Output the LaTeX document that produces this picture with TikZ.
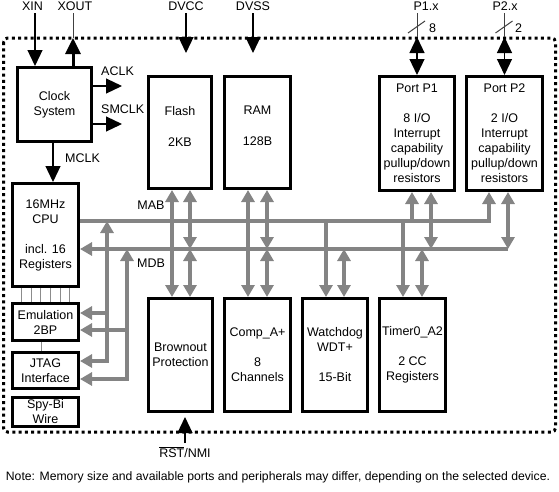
\documentclass[tikz,border=0pt]{standalone}
\usepackage{fontspec}
\setmainfont{Liberation Sans}
\usetikzlibrary{arrows.meta,positioning}
\definecolor{busgray}{RGB}{132,132,132}
\newcommand{\blkfont}{\fontsize{12.5}{15}\selectfont}

\tikzset{
  box/.style={draw, line width=3pt, align=center, inner sep=0pt, font=\blkfont},
  lbl/.style={anchor=base, inner sep=3pt, font=\blkfont},
  sig/.style={line width=1.2pt, >={Triangle[length=16pt,width=15pt]}},
  bus/.style={draw=busgray, line width=4pt, >={Triangle[length=12pt,width=13pt]}},
  pinline/.style={line width=1pt, draw=black!75},
  dbgline/.style={line width=1pt, draw=black!45},
}

\begin{document}
\begin{tikzpicture}[x=1pt, y=-1pt]
\useasboundingbox (0,0) rectangle (559,491);
% chip outline
\draw[line width=3pt, dash pattern=on 3pt off 3.3pt, rounded corners=4pt] (3.5,38) rectangle (555.5,432);

% blocks
\node[box, minimum width=74pt, minimum height=74pt] (clock) at (54.5,104.5) {Clock\\System};
\node[box, minimum width=63pt, minimum height=112pt] (flash) at (180,132.5) {Flash\\[16pt]2KB\\[-2pt]~};
\node[box, minimum width=66pt, minimum height=112pt] (ram) at (257.5,132.5) {RAM\\[16pt]128B\\[-2pt]~};
\node[box, minimum width=75pt, minimum height=114pt] (p1) at (417,133.5) {Port P1\\[15pt]8 I/O\\Interrupt\\capability\\pullup/down\\resistors};
\node[box, minimum width=76pt, minimum height=114pt] (p2) at (504.5,133.5) {Port P2\\[15pt]2 I/O\\Interrupt\\capability\\pullup/down\\resistors};
\node[box, minimum width=66pt, minimum height=103pt] (cpu) at (45.5,235) {16MHz\\CPU\\[15pt]incl. 16\\Registers};
\node[box, minimum width=66pt, minimum height=37pt] (emu) at (45.5,322) {Emulation\\2BP};
\node[box, minimum width=66pt, minimum height=36pt] (jtag) at (45.5,370.5) {JTAG\\Interface};
\node[box, minimum width=66pt, minimum height=29pt] (sbw) at (45.5,412) {Spy-Bi\\Wire};
\node[box, minimum width=64pt, minimum height=113pt] (brown) at (180.5,355) {Brownout\\Protection};
\node[box, minimum width=66pt, minimum height=113pt] (comp) at (257.5,355) {Comp\_A+\\[15pt]8\\Channels};
\node[box, minimum width=65pt, minimum height=113pt] (wdt) at (335,355) {Watchdog\\WDT+\\[15pt]15-Bit};
\node[box, minimum width=66pt, minimum height=113pt] (timer) at (412.5,355) {Timer0\_A2\\[15pt]2 CC\\Registers};

% pin labels
\node[lbl] (xin) at (32.5,10) {XIN};
\node[lbl] (xout) at (75,10) {XOUT};
\node[lbl] (dvcc) at (186,10) {DVCC};
\node[lbl] (dvss) at (253,10) {DVSS};
\node[lbl] (p1x) at (426,10) {P1.x};
\node[lbl] (p2x) at (505,10) {P2.x};
\node[lbl] (p1w) at (432.5,32) {8};
\node[lbl] (p2w) at (518.5,32) {2};
\node[lbl, anchor=base west] (aclk) at (98,75) {ACLK};
\node[lbl, anchor=base west] (smclk) at (98,113) {SMCLK};
\node[lbl, anchor=base west] (mclk) at (62,162) {MCLK};
\node[lbl] (mablbl) at (151,209) {MAB};
\node[lbl] (mdblbl) at (151,267) {MDB};
\node[lbl] (rst) at (185,457) {$\overline{\mbox{RST}}$/NMI};
\node[lbl, font=\fontsize{12.2}{15}\selectfont] (note) at (278,480) {Note: Memory size and available ports and peripherals may differ, depending on the selected device.};

% pin ends
\coordinate (xoutpin) at (73,38);
\coordinate (dvccpin) at (186,53);
\coordinate (dvsspin) at (253,53);
\coordinate (aclkpin) at (122,86);
\coordinate (smclkpin) at (122,124);
\coordinate (p1pin) at (417,37);
\coordinate (p2pin) at (504.5,37);

% clock and supply signals
\draw[sig,->] (35,0 |- xin.south) -- (clock.north -| 35,0);
\draw[pinline] (xoutpin) -- (xoutpin |- xout.south);
\draw[sig,->,line width=3pt] (clock.north -| xoutpin) -- (xoutpin);
\draw[sig,->] (clock.east |- aclkpin) -- (aclkpin);
\draw[sig,->] (clock.east |- smclkpin) -- (smclkpin);
\draw[sig,->] (clock.south -| 53,0) -- (cpu.north -| 53,0);
\draw[sig,->] (dvcc.south) -- (dvccpin);
\draw[sig,->] (dvss.south) -- (dvsspin);

% ports
\draw[pinline] (p1pin |- p1x.south) -- (p1pin);
\draw[sig,<->] (p1pin) -- (p1.north -| p1pin);
\draw[pinline] (408,33) -- (425,21);
\draw[pinline] (p2pin |- p2x.south) -- (p2pin);
\draw[sig,<->] (p2pin) -- (p2.north -| p2pin);
\draw[pinline] (495.5,33) -- (512.5,21);

% reset
\draw[sig,->,shorten >=4pt] (rst.north) -- (brown.south -| rst.north);

% debug links
\foreach \x in {21,31,40,50,60,69}
  \draw[dbgline] (\x,0 |- cpu.south) -- (\x,0 |- emu.north);
\draw[dbgline] (41,0 |- emu.south) -- (41,0 |- jtag.north);

% buses
\coordinate (mab) at (489,221);
\coordinate (mdb) at (508,249);
\draw[bus,->] (cpu.east |- mab) -- (mab) -- (mab |- p2.south);
\draw[bus,<-] (cpu.east |- mdb) -- (mdb);
\draw[bus,<->] (mdb) -- (mdb |- p2.south);

\coordinate (dbga1) at (107,313);
\coordinate (dbga2) at (107,361);
\coordinate (dbgd1) at (127,330);
\coordinate (dbgd2) at (127,379);
\draw[bus,<->] (jtag.east |- dbga2) -- (dbga2) -- (dbga2 |- mab);
\draw[bus,<->] (jtag.east |- dbgd2) -- (dbgd2) -- (dbgd2 |- mdb);
\draw[bus,->] (dbga1) -- (emu.east |- dbga1);
\draw[bus,->] (dbgd1) -- (emu.east |- dbgd1);

\draw[bus,<->] (172,0 |- flash.south) -- (172,0 |- brown.north);
\draw[bus,<->] (190,0 |- flash.south) -- (190,0 |- mdb);
\draw[bus,<->] (190,0 |- mdb) -- (190,0 |- brown.north);
\draw[bus,<->] (248,0 |- ram.south) -- (248,0 |- comp.north);
\draw[bus,<->] (267,0 |- ram.south) -- (267,0 |- mdb);
\draw[bus,<->] (267,0 |- mdb) -- (267,0 |- comp.north);
\draw[bus,->] (326,0 |- mab) -- (326,0 |- wdt.north);
\draw[bus,<->] (344,0 |- mdb) -- (344,0 |- wdt.north);
\draw[bus,->] (403,0 |- mab) -- (403,0 |- timer.north);
\draw[bus,<->] (422,0 |- mdb) -- (422,0 |- timer.north);
\draw[bus,->] (412,0 |- mab) -- (412,0 |- p1.south);
\draw[bus,<->] (431,0 |- mdb) -- (431,0 |- p1.south);
\end{tikzpicture}
\end{document}
